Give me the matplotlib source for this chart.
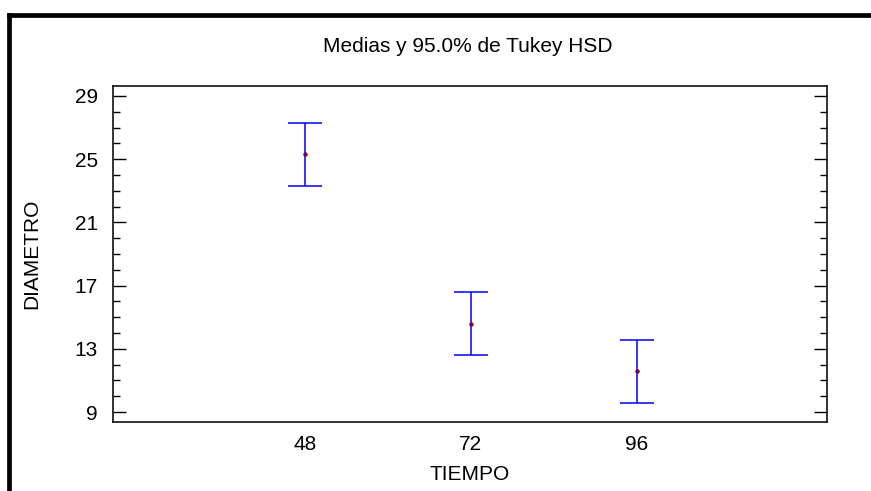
import matplotlib
matplotlib.use("Agg")
import matplotlib.pyplot as plt
from matplotlib.lines import Line2D
from matplotlib.ticker import MultipleLocator, FixedLocator

plt.rcParams['font.family'] = ['Liberation Sans', 'DejaVu Sans']

tiempo = ['48', '72', '96']
medias = [25.3, 14.6, 11.57]
inferior = [23.3, 12.6, 9.55]
superior = [27.3, 16.6, 13.55]
yticks = [9, 13, 17, 21, 25, 29]

W, H = 871, 491
fig = plt.figure(figsize=(W / 100, H / 100), dpi=100)
ax = fig.add_axes([113 / W, 1 - 422 / H, (827 - 113) / W, (422 - 86) / H])

xs = list(range(len(tiempo)))
err_lo = [m - l for m, l in zip(medias, inferior)]
err_hi = [u - m for m, u in zip(medias, superior)]
ax.errorbar(xs, medias, yerr=[err_lo, err_hi], fmt='none', ecolor='#0000FF',
            elinewidth=1.1, capsize=11.9, capthick=1.1)
ax.plot(xs, medias, 'o', color='#800040', markersize=2.2, linestyle='none')

ax.set_xlim(-1.155, 3.145)
ax.set_ylim(8.37, 29.63)
ax.set_xticks(xs)
ax.set_xticklabels(tiempo)
ax.yaxis.set_major_locator(FixedLocator(yticks))
ax.yaxis.set_minor_locator(MultipleLocator(1))
ax.tick_params(axis='x', length=0, labelsize=15, pad=9)
ax.tick_params(axis='y', which='major', direction='in', length=9.4, width=1.0,
               left=True, right=True, labelsize=15, pad=11)
ax.tick_params(axis='y', which='minor', direction='in', length=5, width=1.0,
               left=True, right=True)
for s in ax.spines.values():
    s.set_linewidth(1.2)
    s.set_color('#111111')

ax.set_xlabel('TIEMPO', fontsize=15, labelpad=8)
ax.set_ylabel('DIAMETRO', fontsize=15, labelpad=24)
fig.text(468 / W, 1 - 47 / H, 'Medias y 95.0% de Tukey HSD', ha='center', va='center', fontsize=15)

# outer frame (top and left edges visible)
fig.add_artist(Line2D([9 / W, 1.0], [1 - 15 / H, 1 - 15 / H], lw=3.4, color='black',
                      transform=fig.transFigure, solid_capstyle='projecting'))
fig.add_artist(Line2D([9 / W, 9 / W], [0.0, 1 - 15 / H], lw=3.4, color='black',
                      transform=fig.transFigure, solid_capstyle='projecting'))

fig.savefig('out.png', dpi=100)
